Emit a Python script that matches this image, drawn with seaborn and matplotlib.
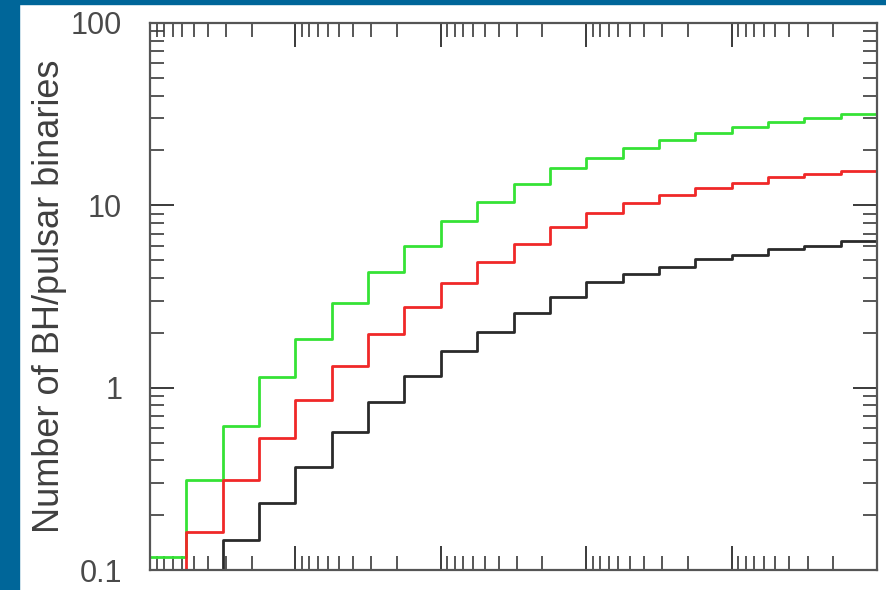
import pandas as pd
import matplotlib
matplotlib.use('Agg')
import matplotlib.pyplot as plt
import seaborn as sns
from matplotlib.patches import Rectangle
from matplotlib.ticker import LogLocator, NullFormatter, FixedLocator, FixedFormatter

sns.set_style('ticks')
plt.rcParams['font.family'] = ['Liberation Sans', 'DejaVu Sans']

# Bin edges along the (reversed) logarithmic x axis, left to right
x_edges = [1e5, 5.62e4, 3.16e4, 1.78e4, 1e4, 5.62e3, 3.16e3, 1.78e3,
           1e3, 562, 316, 178, 100, 56.2, 31.6, 17.8, 10, 5.62, 3.16,
           1.78, 1]

# Cumulative number of BH/pulsar binaries per bin
green_counts = [0.118, 0.31, 0.62, 1.14, 1.85, 2.92, 4.31, 5.98, 8.2, 10.4,
                13.1, 16.0, 18.1, 20.6, 22.9, 24.9, 27.0, 28.8, 30.0, 31.6]
red_counts = [0.05, 0.162, 0.312, 0.53, 0.856, 1.32, 1.96, 2.78, 3.77, 4.91,
              6.12, 7.64, 9.06, 10.3, 11.4, 12.4, 13.3, 14.3, 14.8, 15.5]
black_counts = [0.03, 0.05, 0.146, 0.234, 0.369, 0.57, 0.83, 1.16, 1.58,
                2.03, 2.56, 3.16, 3.78, 4.19, 4.61, 5.08, 5.35, 5.74, 6.01,
                6.38]

y_ticks = [0.1, 1, 10, 100]
y_tick_labels = ['0.1', '1', '10', '100']

series = {'green': green_counts, 'red': red_counts, 'black': black_counts}
frames = []
for name, counts in series.items():
    # repeat last value so the final step reaches the right edge
    frames.append(pd.DataFrame({'x': x_edges,
                                'y': counts + [counts[-1]],
                                'model': name}))
df = pd.concat(frames, ignore_index=True)

palette = {'green': '#35e235', 'red': '#f02828', 'black': '#2a2a2a'}

fig = plt.figure(figsize=(8.87, 5.90), dpi=100)
ax = fig.add_axes([150 / 887, 20 / 590, 727 / 887, 547 / 590])

sns.lineplot(data=df, x='x', y='y', hue='model', palette=palette,
             sort=False, estimator=None, drawstyle='steps-post',
             linewidth=2.0, legend=False, ax=ax)

ax.set_xscale('log')
ax.set_yscale('log')
ax.set_xlim(1e5, 1)
ax.set_ylim(0.1, 100)

ax.yaxis.set_major_locator(FixedLocator(y_ticks))
ax.yaxis.set_major_formatter(FixedFormatter(y_tick_labels))
ax.yaxis.set_minor_locator(LogLocator(base=10, subs=range(2, 10)))
ax.yaxis.set_minor_formatter(NullFormatter())
ax.xaxis.set_minor_locator(LogLocator(base=10, subs=range(2, 10)))
ax.xaxis.set_minor_formatter(NullFormatter())

tick_col = '#3a3a3a'
ax.tick_params(which='both', direction='in', top=True, right=True,
               labelbottom=False, labeltop=False, labelright=False,
               color=tick_col)
ax.tick_params(which='major', length=17, width=1.4)
ax.tick_params(which='minor', length=10, width=1.2)
ax.tick_params(axis='y', labelsize=22, labelcolor='#4a4a4a', pad=20)

for side in ax.spines.values():
    side.set_color('#555555')
    side.set_linewidth(1.6)

ax.set_xlabel('')
ax.set_ylabel('Number of BH/pulsar binaries', fontsize=26, color='#3f3f3f')
ax.yaxis.set_label_coords(-0.114, 0.5)

# slide frame in blue on the left and top
fig.patches.append(Rectangle((0, 0), 19 / 887, 1, transform=fig.transFigure,
                             color='#006699', zorder=-1))
fig.patches.append(Rectangle((0, 1 - 3.5 / 590), 1, 3.5 / 590,
                             transform=fig.transFigure, color='#006699',
                             zorder=-1))

fig.savefig('out.png', dpi=100)
plt.close()
